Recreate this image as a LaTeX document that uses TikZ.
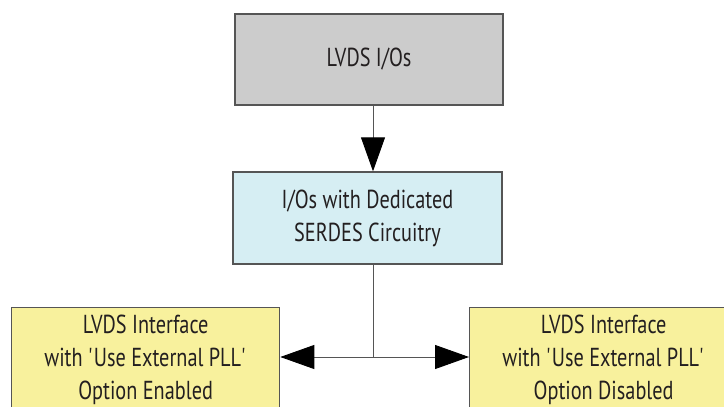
\documentclass[tikz,border=0pt]{standalone}
\usepackage{fontspec}
\setmainfont{PT Sans}[FakeStretch=0.78]
\usetikzlibrary{arrows.meta}
\definecolor{grayfill}{HTML}{CCCCCC}
\definecolor{bluefill}{HTML}{D6EEF3}
\definecolor{yellowfill}{HTML}{F8F19D}
\definecolor{boxline}{HTML}{555555}
\definecolor{connline}{HTML}{555555}
\definecolor{textcol}{HTML}{231F20}
\newcommand{\sq}{\textquotesingle}
\begin{document}
\begin{tikzpicture}[x=1pt,y=-1pt,
  box/.style={draw=boxline, line width=1.3pt, inner sep=0pt, align=center, text=textcol,
    font=\fontsize{26}{33}\selectfont},
  conn/.style={draw=connline, line width=0.9pt},
  tip/.style={-{Triangle[length=34pt,width=24pt,color=black]}}]
\useasboundingbox (0,0) rectangle (724,407);
\node[box, fill=grayfill, minimum width=268pt, minimum height=91pt] (io) at (369,59.5) {LVDS I/Os};
\node[box, fill=bluefill, minimum width=269pt, minimum height=92pt] (serdes) at (367.5,218) {I/Os with Dedicated\\SERDES Circuitry};
\node[box, fill=yellowfill, minimum width=268pt, minimum height=104pt, anchor=north west] (en) at (11,307) {LVDS Interface\\with \sq Use External PLL\sq\\Option Enabled};
\node[box, fill=yellowfill, minimum width=268pt, minimum height=104pt, anchor=north west] (dis) at (469,307) {LVDS Interface\\with \sq Use External PLL\sq\\Option Disabled};
\coordinate (j) at (373,357);
\draw[conn, tip] (io.south -| j) -- (serdes.north -| j);
\draw[conn] (serdes.south -| j) -- (j);
\draw[conn, tip] (j) -- (j -| en.east);
\draw[conn, tip] (j) -- (j -| dis.west);
\end{tikzpicture}
\end{document}
